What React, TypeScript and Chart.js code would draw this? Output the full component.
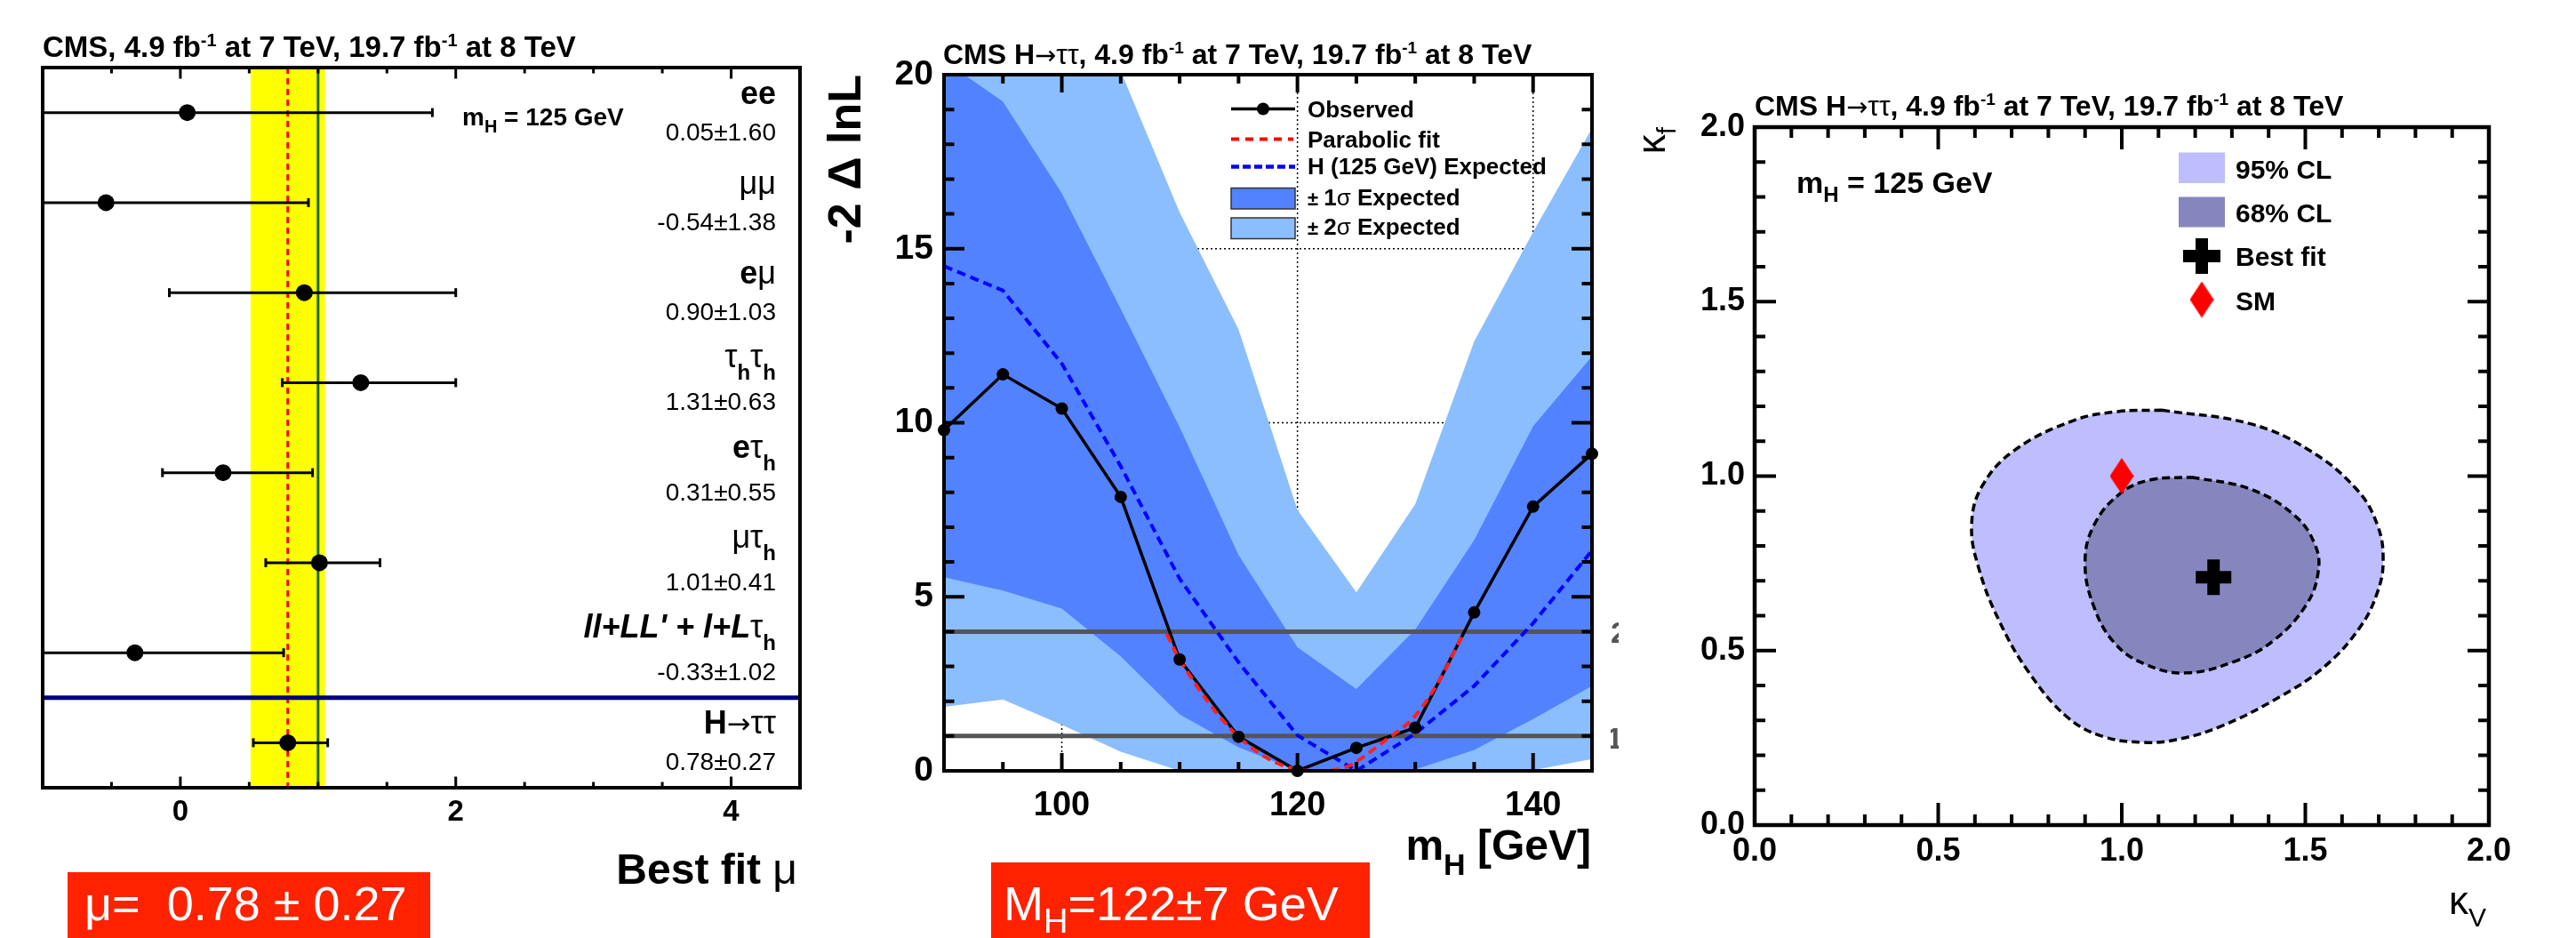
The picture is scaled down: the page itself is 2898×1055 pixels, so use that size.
import React, { useEffect, useRef } from 'react';
import { Chart, registerables } from 'chart.js';

Chart.register(...registerables);

const FONT = '"Liberation Sans", Arial, Helvetica, sans-serif';
const ARROWFONT = '"DejaVu Sans", "Liberation Sans", sans-serif';
const fb = (n: number) => `bold ${n}px ${FONT}`;
const fr = (n: number) => `${n}px ${FONT}`;
const fbi = (n: number) => `italic bold ${n}px ${FONT}`;
const fa = (n: number) => `${n}px ${ARROWFONT}`;

// ---------------- Panel 1: best-fit signal strength per channel ----------------
const channelNames = ['ee', 'μμ', 'eμ', 'τhτh', 'eτh', 'μτh', "ll+LL' + l+Lτh", 'H→ττ'];
const channelMu = [0.05, -0.54, 0.9, 1.31, 0.31, 1.01, -0.33, 0.78];
const channelErr = [1.6, 1.38, 1.03, 0.63, 0.55, 0.41, 1.02, 0.27];
const channelLow = [-1.55, -1.92, -0.08, 0.74, -0.13, 0.62, -1.35, 0.53];
const channelHigh = [1.83, 0.93, 2.0, 2.0, 0.96, 1.45, 0.75, 1.07];
const channelRow = [0.5, 1.5, 2.5, 3.5, 4.5, 5.5, 6.5, 7.5];
const combinedSeparatorRow = 7;
const smMu = 1.0;
const muTicks = [0, 2, 4];
const muMinorTicks = [-0.5, 0.5, 1, 1.5, 2.5, 3, 3.5];

// ---------------- Panel 2: -2 Delta lnL vs mH ----------------
const massPoints = [90, 95, 100, 105, 110, 115, 120, 125, 130, 135, 140, 145];
const nllObserved = [9.79, 11.39, 10.41, 7.87, 3.2, 0.98, 0.0, 0.66, 1.24, 4.55, 7.59, 9.11];
const nllExpected = [14.5, 13.8, 11.7, 8.75, 5.52, 3.12, 1.02, 0.0, 1.07, 2.44, 4.24, 6.33];
const nllExp2Up = [28.0, 26.0, 23.5, 20.1, 16.05, 12.68, 7.5, 5.13, 7.66, 12.34, 15.48, 18.46];
const nllExp1Up = [20.4, 19.23, 16.59, 13.27, 9.87, 6.2, 3.55, 2.35, 4.06, 6.63, 9.9, 11.91];
const nllExp1Down = [5.56, 5.18, 4.66, 3.29, 1.62, 0.68, 0.0, 0.0, 0.04, 0.6, 1.49, 2.44];
const nllExp2Down = [1.84, 2.05, 1.32, 0.55, 0.0, 0.0, 0.0, 0.0, 0.0, 0.0, 0.02, 0.34];
const parabolaMass = [108.9, 110, 115, 120, 121.9, 124.2, 127.2, 130, 132.2, 134.0];
const parabolaNll = [3.93, 3.2, 0.98, 0.04, 0.0, 0.12, 0.81, 1.58, 2.69, 3.89];
const nllLevels = [1, 4];
const massFit = 122;
const massFitErr = 7;
const massTicks = [100, 120, 140];
const massMinorTicks = [95, 105, 110, 115, 125, 130, 135];
const nllTicks = [0, 5, 10, 15, 20];
const nllMinorTicks = [1, 2, 3, 4, 6, 7, 8, 9, 11, 12, 13, 14, 16, 17, 18, 19];

// ---------------- Panel 3: kappa_V vs kappa_f ----------------
const cl95KappaV = [1.109, 1.35, 1.511, 1.639, 1.696, 1.712, 1.696, 1.647, 1.551, 1.431, 1.27, 1.15, 1.061, 0.949, 0.852, 0.748, 0.668, 0.611, 0.591, 0.62, 0.708, 0.868, 0.989];
const cl95KappaF = [1.189, 1.15, 1.074, 0.963, 0.861, 0.759, 0.666, 0.564, 0.453, 0.368, 0.283, 0.245, 0.237, 0.254, 0.309, 0.436, 0.581, 0.734, 0.861, 0.972, 1.074, 1.159, 1.185];
const cl68KappaV = [1.19, 1.35, 1.471, 1.527, 1.535, 1.503, 1.415, 1.31, 1.174, 1.061, 0.981, 0.925, 0.9, 0.925, 0.997, 1.077];
const cl68KappaF = [0.997, 0.963, 0.887, 0.802, 0.725, 0.632, 0.53, 0.47, 0.436, 0.462, 0.521, 0.623, 0.751, 0.861, 0.951, 0.989];
const bestFitKappaV = [1.25];
const bestFitKappaF = [0.71];
const smKappaV = [1.0];
const smKappaF = [1.0];
const kappaTicks = [0, 0.5, 1, 1.5, 2];
const kappaMajorInner = [0.5, 1, 1.5];
const kappaMinorTicks = [0.1, 0.2, 0.3, 0.4, 0.6, 0.7, 0.8, 0.9, 1.1, 1.2, 1.3, 1.4, 1.6, 1.7, 1.8, 1.9];

// ---------------- colours ----------------
const BAND1 = '#5282FF';
const BAND2 = '#8BBEFF';
const CL95 = '#BEBEFF';
const CL68 = '#8686BF';
const BOXRED = '#FF2200';

// ---------------- helpers ----------------
type Seg = { t: string; f: string; dy?: number };

function richWidth(ctx: any, segs: Seg[]) {
  let w = 0;
  for (const s of segs) {
    ctx.font = s.f;
    w += ctx.measureText(s.t).width;
  }
  return w;
}

function drawRich(ctx: any, segs: Seg[], x: number, y: number, align = 'left', color = '#000') {
  const w = richWidth(ctx, segs);
  let cx = align === 'right' ? x - w : align === 'center' ? x - w / 2 : x;
  ctx.save();
  ctx.textAlign = 'left';
  ctx.textBaseline = 'alphabetic';
  ctx.fillStyle = color;
  for (const s of segs) {
    ctx.font = s.f;
    ctx.fillText(s.t, cx, y + (s.dy || 0));
    cx += ctx.measureText(s.t).width;
  }
  ctx.restore();
}

function drawRotated(ctx: any, segs: Seg[], x: number, y: number) {
  ctx.save();
  ctx.translate(x, y);
  ctx.rotate(-Math.PI / 2);
  drawRich(ctx, segs, 0, 0, 'right');
  ctx.restore();
}

function titleSegs(withHtt: boolean, size: number): Seg[] {
  const sup = (t: string): Seg => ({ t, f: fb(Math.round(size * 0.6)), dy: -12 });
  const head: Seg[] = withHtt
    ? [{ t: 'CMS H', f: fb(size) }, { t: '→', f: fa(size * 0.9) }, { t: 'ττ', f: fr(size) }, { t: ', 4.9 fb', f: fb(size) }]
    : [{ t: 'CMS, 4.9 fb', f: fb(size) }];
  return [...head, sup('-1'), { t: ' at 7 TeV, 19.7 fb', f: fb(size) }, sup('-1'), { t: ' at 8 TeV', f: fb(size) }];
}

function channelSegs(name: string): Seg[] {
  const S = 36;
  const sub: Seg = { t: 'h', f: fb(24), dy: 14 };
  switch (name) {
    case 'ee': return [{ t: 'ee', f: fb(S) }];
    case 'μμ': return [{ t: 'μμ', f: fr(S) }];
    case 'eμ': return [{ t: 'e', f: fb(S) }, { t: 'μ', f: fr(S) }];
    case 'τhτh': return [{ t: 'τ', f: fr(S) }, sub, { t: 'τ', f: fr(S) }, sub];
    case 'eτh': return [{ t: 'e', f: fb(S) }, { t: 'τ', f: fr(S) }, sub];
    case 'μτh': return [{ t: 'μτ', f: fr(S) }, sub];
    case "ll+LL' + l+Lτh": return [{ t: "ll+LL' + l+L", f: fbi(S) }, { t: 'τ', f: fr(S) }, sub];
    default: return [{ t: 'H', f: fb(S) }, { t: '→', f: fa(32) }, { t: 'ττ', f: fr(S) }];
  }
}

function frameTicks(chart: any, o: any) {
  const { ctx, chartArea: a } = chart;
  const xs = chart.scales.x;
  const ys = chart.scales.y;
  ctx.save();
  ctx.strokeStyle = '#000';
  ctx.setLineDash([]);
  ctx.lineWidth = o.tw;
  ctx.beginPath();
  const vx = (vals: number[], len: number) => vals.forEach((v) => {
    const p = xs.getPixelForValue(v);
    ctx.moveTo(p, a.bottom); ctx.lineTo(p, a.bottom - len);
    ctx.moveTo(p, a.top); ctx.lineTo(p, a.top + len);
  });
  const vy = (vals: number[], len: number) => vals.forEach((v) => {
    const p = ys.getPixelForValue(v);
    ctx.moveTo(a.left, p); ctx.lineTo(a.left + len, p);
    ctx.moveTo(a.right, p); ctx.lineTo(a.right - len, p);
  });
  vx(o.xMaj, o.lxMaj);
  vx(o.xMin, o.lxMin);
  if (o.yMaj) { vy(o.yMaj, o.lyMaj); vy(o.yMin, o.lyMin); }
  ctx.stroke();
  ctx.lineWidth = o.fw;
  ctx.strokeRect(a.left, a.top, a.right - a.left, a.bottom - a.top);
  ctx.restore();
}

function axis(min: number, max: number, ticks: number[], size: number, pad: number, fit: any, extra: any = {}) {
  return {
    type: 'linear',
    min,
    max,
    grid: { display: false, drawTicks: false },
    border: { display: false },
    afterBuildTicks: (s: any) => { s.ticks = ticks.map((v) => ({ value: v })); },
    afterFit: (s: any) => {
      if (fit.w != null) s.width = fit.w;
      if (fit.h != null) s.height = fit.h;
    },
    ticks: {
      font: { family: FONT, size, weight: 'bold' },
      color: '#000',
      padding: pad,
      autoSkip: false,
      maxRotation: 0,
      minRotation: 0,
      ...extra,
    },
  };
}

const pts = (xs: number[], ys: number[]) => xs.map((x, i) => ({ x, y: ys[i] }));

function hline(ctx: any, x1: number, x2: number, y: number) {
  ctx.beginPath(); ctx.moveTo(x1, y); ctx.lineTo(x2, y); ctx.stroke();
}
function vline(ctx: any, x: number, y1: number, y2: number) {
  ctx.beginPath(); ctx.moveTo(x, y1); ctx.lineTo(x, y2); ctx.stroke();
}

function makeDiamond(w: number, h: number, color: string) {
  const c = document.createElement('canvas');
  c.width = w; c.height = h;
  const g = c.getContext('2d')!;
  g.fillStyle = color;
  g.beginPath();
  g.moveTo(w / 2, 0); g.lineTo(w, h / 2); g.lineTo(w / 2, h); g.lineTo(0, h / 2);
  g.closePath(); g.fill();
  return c;
}

// ---------------- chart 1 ----------------
const OFF1 = 0;
function config1(): any {
  const plugin = {
    id: 'p1',
    beforeDatasetsDraw(chart: any) {
      const { ctx, chartArea: a } = chart;
      const x = chart.scales.x;
      const y = chart.scales.y;
      ctx.save();
      ctx.beginPath();
      ctx.rect(a.left, a.top, a.right - a.left, a.bottom - a.top);
      ctx.clip();
      const last = channelMu.length - 1;
      const xl = x.getPixelForValue(channelMu[last] - channelErr[last]);
      const xr = x.getPixelForValue(channelMu[last] + channelErr[last]);
      ctx.fillStyle = '#FFFF00';
      ctx.fillRect(xl, a.top, xr - xl, a.bottom - a.top);
      ctx.strokeStyle = '#1B6B1B';
      ctx.lineWidth = 3;
      vline(ctx, x.getPixelForValue(smMu), a.top, a.bottom);
      ctx.strokeStyle = '#FF0000';
      ctx.setLineDash([7, 5]);
      vline(ctx, x.getPixelForValue(channelMu[last]), a.top, a.bottom);
      ctx.setLineDash([]);
      ctx.strokeStyle = '#000080';
      ctx.lineWidth = 5;
      hline(ctx, a.left, a.right, y.getPixelForValue(combinedSeparatorRow));
      ctx.strokeStyle = '#000';
      ctx.lineWidth = 3;
      channelMu.forEach((_, i) => {
        const py = y.getPixelForValue(channelRow[i]);
        const p1 = x.getPixelForValue(channelLow[i]);
        const p2 = x.getPixelForValue(channelHigh[i]);
        hline(ctx, p1, p2, py);
        [channelLow[i], channelHigh[i]].forEach((v) => {
          if (v > x.min && v < x.max) vline(ctx, x.getPixelForValue(v), py - 5, py + 5);
        });
      });
      ctx.restore();
    },
    afterDatasetsDraw(chart: any) {
      frameTicks(chart, { xMaj: muTicks, xMin: muMinorTicks, lxMaj: 12.5, lxMin: 6.5, tw: 3, fw: 4 });
    },
    afterDraw(chart: any) {
      const { ctx } = chart;
      const y = chart.scales.y;
      ctx.save();
      ctx.translate(-OFF1, 0);
      drawRich(ctx, titleSegs(false, 33), 48, 64);
      drawRich(ctx, [{ t: 'm', f: fb(28) }, { t: 'H', f: fb(20), dy: 8 }, { t: ' = 125 GeV', f: fb(28) }], 520, 141);
      channelNames.forEach((name, i) => {
        const py = y.getPixelForValue(channelRow[i]);
        const segs = channelSegs(name);
        const hasSub = segs.some((s) => s.dy);
        drawRich(ctx, segs, 873, py - (hasSub ? 17 : 10), 'right');
        drawRich(ctx, [{ t: `${channelMu[i].toFixed(2)}±${channelErr[i].toFixed(2)}`, f: fr(28) }], 873, py + 31, 'right');
      });
      drawRich(ctx, [{ t: 'Best fit ', f: fb(48) }, { t: 'μ', f: fr(48) }], 897, 994, 'right');
      ctx.fillStyle = BOXRED;
      ctx.fillRect(76, 981, 408, 74);
      const last = channelMu.length - 1;
      drawRich(ctx, [{ t: `μ=  ${channelMu[last].toFixed(2)} ± ${channelErr[last].toFixed(2)}`, f: fr(54) }], 95, 1035, 'left', '#FFFFFF');
      ctx.restore();
    },
  };
  return {
    type: 'scatter',
    data: {
      datasets: [
        {
          data: pts(channelMu, channelRow),
          pointRadius: 9.5,
          pointBackgroundColor: '#000',
          pointBorderWidth: 0,
          showLine: false,
        },
      ],
    },
    options: {
      responsive: false,
      animation: false,
      devicePixelRatio: 1,
      events: [],
      layout: { padding: { left: 48, right: 60, top: 76, bottom: 109 } },
      plugins: { legend: { display: false }, tooltip: { enabled: false } },
      scales: {
        x: axis(-1, 4.5, muTicks, 33, 8, { h: 60 }),
        y: { type: 'linear', min: 0, max: 8, reverse: true, display: false },
      },
    },
    plugins: [plugin],
  };
}

// ---------------- chart 2 ----------------
const OFF2 = 880;
function config2(): any {
  const plugin = {
    id: 'p2',
    beforeDatasetsDraw(chart: any) {
      const { ctx, chartArea: a } = chart;
      const x = chart.scales.x;
      const y = chart.scales.y;
      ctx.save();
      ctx.strokeStyle = '#000';
      ctx.lineWidth = 1.5;
      ctx.setLineDash([2, 3]);
      massTicks.forEach((m) => vline(ctx, x.getPixelForValue(m), a.top, a.bottom));
      nllTicks.slice(1, -1).forEach((v) => hline(ctx, a.left, a.right, y.getPixelForValue(v)));
      ctx.restore();
    },
    afterDatasetsDraw(chart: any) {
      frameTicks(chart, {
        xMaj: massTicks, xMin: massMinorTicks, lxMaj: 20, lxMin: 10,
        yMaj: nllTicks, yMin: nllMinorTicks, lyMaj: 23, lyMin: 11.5, tw: 4, fw: 4,
      });
    },
    afterDraw(chart: any) {
      const { ctx } = chart;
      ctx.save();
      ctx.translate(-OFF2, 0);
      drawRich(ctx, titleSegs(true, 32), 1061, 72);
      drawRotated(ctx, [{ t: '-2 Δ lnL', f: fb(52) }], 968, 84);
      drawRich(ctx, [{ t: 'm', f: fb(48) }, { t: 'H', f: fb(34), dy: 17 }, { t: ' [GeV]', f: fb(48) }], 1790, 967, 'right');
      // legend
      ctx.strokeStyle = '#000';
      ctx.lineWidth = 3.5;
      hline(ctx, 1385, 1457, 122.5);
      ctx.fillStyle = '#000';
      ctx.beginPath(); ctx.arc(1421, 122.5, 7, 0, Math.PI * 2); ctx.fill();
      drawRich(ctx, [{ t: 'Observed', f: fb(26) }], 1471, 131.5);
      ctx.lineWidth = 4;
      ctx.strokeStyle = '#FF0000';
      ctx.setLineDash([9, 7]);
      hline(ctx, 1385, 1455, 156.5);
      drawRich(ctx, [{ t: 'Parabolic fit', f: fb(26) }], 1471, 165.5);
      ctx.strokeStyle = '#0000FF';
      ctx.lineWidth = 4.5;
      ctx.setLineDash([9, 4]);
      hline(ctx, 1385, 1457, 187.5);
      ctx.setLineDash([]);
      drawRich(ctx, [{ t: 'H (125 GeV) Expected', f: fb(26) }], 1471, 196);
      ctx.lineWidth = 1.5;
      ctx.strokeStyle = '#333';
      ctx.fillStyle = BAND1;
      ctx.fillRect(1385, 211.5, 72, 23.5);
      ctx.strokeRect(1385, 211.5, 72, 23.5);
      ctx.fillStyle = BAND2;
      ctx.fillRect(1385, 245, 72, 23.5);
      ctx.strokeRect(1385, 245, 72, 23.5);
      drawRich(ctx, [{ t: '± ', f: fb(22) }, { t: '1', f: fb(26) }, { t: 'σ', f: fr(26) }, { t: ' Expected', f: fb(26) }], 1471, 231);
      drawRich(ctx, [{ t: '± ', f: fb(22) }, { t: '2', f: fb(26) }, { t: 'σ', f: fr(26) }, { t: ' Expected', f: fb(26) }], 1471, 264);
      // clipped labels outside the frame
      ctx.save();
      ctx.beginPath(); ctx.rect(1812, 680, 9, 180); ctx.clip();
      ctx.fillStyle = '#555';
      ctx.font = fb(34);
      ctx.fillText('2', 1812, 723);
      ctx.fillText('1', 1807, 842);
      ctx.restore();
      // result box
      ctx.fillStyle = BOXRED;
      ctx.fillRect(1115, 970, 426, 85);
      drawRich(ctx, [{ t: 'M', f: fr(54) }, { t: 'H', f: fr(38), dy: 14 }, { t: `=${massFit}±${massFitErr} GeV`, f: fr(54) }], 1129, 1035, 'left', '#FFFFFF');
      ctx.restore();
    },
  };
  const band = (ys: number[], fill: any, color: string, order: number) => ({
    data: pts(massPoints, ys), borderWidth: 0, borderColor: 'rgba(0,0,0,0)', pointRadius: 0,
    fill, backgroundColor: color, order, tension: 0,
  });
  const level = (v: number) => ({
    data: pts([massPoints[0], massPoints[massPoints.length - 1]], [v, v]),
    borderColor: '#555555', borderWidth: 5, pointRadius: 0, fill: false, order: 6,
  });
  return {
    type: 'line',
    data: {
      datasets: [
        band(nllExp2Up, '+1', BAND2, 10),
        band(nllExp2Down, false, BAND2, 9),
        band(nllExp1Up, '+1', BAND1, 8),
        band(nllExp1Down, false, BAND1, 7),
        level(nllLevels[0]),
        level(nllLevels[1]),
        {
          data: pts(massPoints, nllExpected), borderColor: '#0000FF', borderWidth: 4, borderDash: [10, 6],
          pointRadius: 0, fill: false, order: 5, tension: 0,
        },
        {
          data: pts(massPoints, nllObserved), borderColor: '#000', borderWidth: 3.5,
          pointRadius: 0, fill: false, order: 4, tension: 0,
        },
        {
          data: pts(parabolaMass, parabolaNll), borderColor: '#FF2020', borderWidth: 4, borderDash: [10, 6],
          pointRadius: 0, fill: false, order: 3, cubicInterpolationMode: 'monotone',
        },
        {
          data: pts(massPoints, nllObserved), showLine: false, pointRadius: 7, pointBackgroundColor: '#000',
          pointBorderWidth: 0, fill: false, order: 1, clip: false,
        },
      ],
    },
    options: {
      responsive: false,
      animation: false,
      devicePixelRatio: 1,
      events: [],
      layout: { padding: { left: 102, right: 69, top: 84, bottom: 128 } },
      plugins: { legend: { display: false }, tooltip: { enabled: false } },
      scales: {
        x: axis(90, 145, massTicks, 38, 17, { h: 60 }),
        y: axis(0, 20, nllTicks, 39, 12, { w: 80 }),
      },
    },
    plugins: [plugin],
  };
}

// ---------------- chart 3 ----------------
const OFF3 = 1820;
function config3(): any {
  const diamond = makeDiamond(27, 41, '#FF0000');
  const plugin = {
    id: 'p3',
    afterDatasetsDraw(chart: any) {
      frameTicks(chart, {
        xMaj: kappaMajorInner, xMin: kappaMinorTicks, lxMaj: 25, lxMin: 12,
        yMaj: kappaMajorInner, yMin: kappaMinorTicks, lyMaj: 24, lyMin: 12, tw: 4, fw: 4.5,
      });
    },
    afterDraw(chart: any) {
      const { ctx } = chart;
      ctx.save();
      ctx.translate(-OFF3, 0);
      drawRich(ctx, titleSegs(true, 32), 1974, 130);
      drawRich(ctx, [{ t: 'm', f: fb(34) }, { t: 'H', f: fb(24), dy: 10 }, { t: ' = 125 GeV', f: fb(34) }], 2021, 217);
      drawRich(ctx, [{ t: 'κ', f: fr(44) }, { t: 'V', f: fr(30), dy: 14 }], 2797, 1028, 'right');
      drawRotated(ctx, [{ t: 'κ', f: fr(44) }, { t: 'f', f: fr(30), dy: 12 }], 1873, 143);
      // legend
      ctx.fillStyle = CL95;
      ctx.fillRect(2451, 171.5, 52, 34.5);
      ctx.fillStyle = CL68;
      ctx.fillRect(2451, 221.5, 52, 34);
      drawRich(ctx, [{ t: '95% CL', f: fb(30) }], 2515, 201);
      drawRich(ctx, [{ t: '68% CL', f: fb(30) }], 2515, 250);
      ctx.strokeStyle = '#000';
      ctx.lineWidth = 14;
      hline(ctx, 2456, 2498, 288);
      vline(ctx, 2477, 268, 308);
      drawRich(ctx, [{ t: 'Best fit', f: fb(30) }], 2515, 299);
      ctx.drawImage(diamond, 2477 - 13.5, 337 - 20.5);
      drawRich(ctx, [{ t: 'SM', f: fb(30) }], 2515, 349);
      ctx.restore();
    },
  };
  const closed = (xs: number[], ys: number[]) => {
    const p = pts(xs, ys);
    return [...p, p[0]];
  };
  return {
    type: 'line',
    data: {
      datasets: [
        {
          data: closed(cl95KappaV, cl95KappaF), fill: 'shape', backgroundColor: CL95,
          borderColor: '#000', borderWidth: 3.5, borderDash: [9, 5], pointRadius: 0, tension: 0.4, order: 5,
        },
        {
          data: closed(cl68KappaV, cl68KappaF), fill: 'shape', backgroundColor: CL68,
          borderColor: '#000', borderWidth: 3.5, borderDash: [9, 5], pointRadius: 0, tension: 0.4, order: 4,
        },
        {
          data: pts(smKappaV, smKappaF), showLine: false, pointStyle: diamond, pointRadius: 20, order: 2,
        },
        {
          data: pts(bestFitKappaV, bestFitKappaF), showLine: false, pointStyle: 'cross', pointRadius: 20,
          pointBorderWidth: 14, pointBorderColor: '#000', order: 1,
        },
      ],
    },
    options: {
      responsive: false,
      animation: false,
      devicePixelRatio: 1,
      events: [],
      layout: { padding: { left: 74, right: 98, top: 143, bottom: 67 } },
      plugins: { legend: { display: false }, tooltip: { enabled: false } },
      scales: {
        x: axis(0, 2, kappaTicks, 36, 8, { h: 60 }, { callback: (v: any) => Number(v).toFixed(1) }),
        y: axis(0, 2, kappaTicks, 36, 11, { w: 80 }, { callback: (v: any) => Number(v).toFixed(1) }),
      },
    },
    plugins: [plugin],
  };
}

export default function App() {
  const r1 = useRef<HTMLCanvasElement>(null);
  const r2 = useRef<HTMLCanvasElement>(null);
  const r3 = useRef<HTMLCanvasElement>(null);
  useEffect(() => {
    const charts = [
      new Chart(r1.current as any, config1()),
      new Chart(r2.current as any, config2()),
      new Chart(r3.current as any, config3()),
    ];
    return () => charts.forEach((c) => c.destroy());
  }, []);
  const cs = (left: number, w: number): any => ({ position: 'absolute', left, top: 0, width: w, height: 1055 });
  return (
    <div style={{ position: 'absolute', left: 0, top: 0, width: 2898, height: 1055, background: '#fff', overflow: 'hidden' }}>
      <canvas ref={r1} width={960} height={1055} style={cs(OFF1, 960)} />
      <canvas ref={r2} width={980} height={1055} style={cs(OFF2, 980)} />
      <canvas ref={r3} width={1078} height={1055} style={cs(OFF3, 1078)} />
    </div>
  );
}
